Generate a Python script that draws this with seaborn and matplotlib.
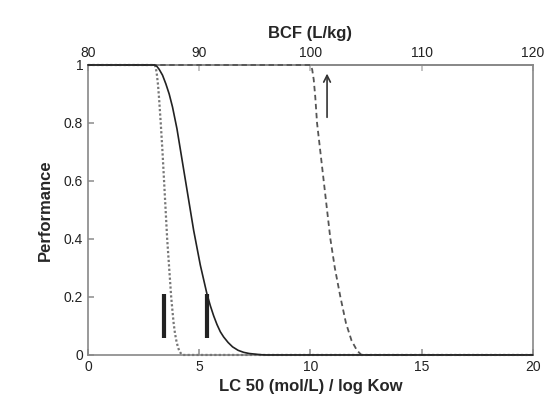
import matplotlib
matplotlib.use("Agg")
import matplotlib.pyplot as plt
import seaborn as sns
import pandas as pd

# Solid curve
solid_x = [0, 3.0, 3.1, 3.2, 3.35, 3.5, 3.65, 3.8, 4.0, 4.15, 4.3, 4.45, 4.6, 4.75, 4.9, 5.05, 5.2,
           5.35, 5.5, 5.65, 5.8, 5.95, 6.1, 6.3, 6.5, 6.75, 7.0, 7.25, 7.5, 7.75, 8.0, 20]
solid_y = [1, 1, 0.995, 0.985, 0.965, 0.935, 0.9, 0.855, 0.78, 0.71, 0.64, 0.57, 0.5, 0.43, 0.37,
           0.31, 0.26, 0.21, 0.17, 0.135, 0.105, 0.08, 0.062, 0.043, 0.028, 0.016, 0.009, 0.005,
           0.003, 0.001, 0, 0]
# Dotted curve
dotted_x = [0, 3.0, 3.05, 3.1, 3.15, 3.2, 3.27, 3.35, 3.42, 3.49, 3.56, 3.65, 3.74, 3.8, 3.85,
            3.91, 3.97, 4.04, 4.1, 4.17, 4.25, 20]
dotted_y = [1, 1, 0.99, 0.965, 0.93, 0.88, 0.8, 0.7, 0.6, 0.5, 0.4, 0.3, 0.2, 0.15, 0.11,
            0.075, 0.05, 0.028, 0.015, 0.006, 0, 0]
# Dashed curve
dashed_x = [0, 10.0, 10.08, 10.15, 10.22, 10.3, 10.45, 10.6, 10.75, 10.9, 11.1, 11.35, 11.6,
            11.85, 12.1, 12.3, 20]
dashed_y = [1, 1, 0.985, 0.95, 0.89, 0.8, 0.7, 0.6, 0.5, 0.4, 0.3, 0.2, 0.11, 0.05, 0.015, 0, 0]

# Markers (vertical bars) and arrow
bar_x = [3.4, 5.35]
bar_y0 = [0.06, 0.06]
bar_y1 = [0.21, 0.21]
arrow_x = 10.75
arrow_y = [0.81, 0.98]

x_ticks = [0, 5, 10, 15, 20]
y_ticks = [0, 0.2, 0.4, 0.6, 0.8, 1]
y_labels = ["0", "0.2", "0.4", "0.6", "0.8", "1"]
top_ticks = [80, 90, 100, 110, 120]

sns.set_theme(style="white")
plt.rcParams["font.family"] = ["Liberation Sans", "DejaVu Sans"]

fig = plt.figure(figsize=(5.45, 4.08), dpi=100)
ax = fig.add_axes([0.1615, 0.130, 0.816, 0.7107])

df_s = pd.DataFrame({"x": solid_x, "y": solid_y})
df_d = pd.DataFrame({"x": dotted_x, "y": dotted_y})
df_h = pd.DataFrame({"x": dashed_x, "y": dashed_y})

sns.lineplot(data=df_h, x="x", y="y", ax=ax, sort=False, estimator=None,
             color="#555555", lw=1.3, linestyle=(0, (3, 2)), clip_on=False, zorder=3)
sns.lineplot(data=df_d, x="x", y="y", ax=ax, sort=False, estimator=None,
             color="#777777", lw=1.6, linestyle=(0, (1, 1)), clip_on=False, zorder=3)
sns.lineplot(data=df_s, x="x", y="y", ax=ax, sort=False, estimator=None,
             color="#222222", lw=1.2, clip_on=False, zorder=4)

ax.vlines(bar_x, bar_y0, bar_y1, colors="#222222", lw=3)
ax.annotate("", xy=(arrow_x, arrow_y[1]), xytext=(arrow_x, arrow_y[0]),
            arrowprops=dict(arrowstyle="->", color="#333333", lw=1.2))

ax.set_xlim(0, 20)
ax.set_ylim(0, 1)
ax.set_xticks(x_ticks)
ax.set_yticks(y_ticks)
ax.set_yticklabels(y_labels)
ax.tick_params(axis="both", direction="in", length=4, color="#999999",
               labelsize=10, colors="#222222", left=True, bottom=True)
ax.set_xlabel("LC 50 (mol/L) / log Kow", fontsize=12, fontweight="bold", labelpad=4)
ax.set_ylabel("Performance", fontsize=12, fontweight="bold", labelpad=8)

for sp in ax.spines.values():
    sp.set_color("#888888")
    sp.set_linewidth(1.2)

sec = ax.secondary_xaxis("top", functions=(lambda v: 80 + 2 * v, lambda b: (b - 80) / 2))
sec.set_xticks(top_ticks)
sec.tick_params(direction="in", length=4, color="#bbbbbb", labelsize=10, colors="#222222")
sec.set_xlabel("BCF (L/kg)", fontsize=12, fontweight="bold", labelpad=6)
sec.spines["top"].set_color("#888888")

fig.savefig("out.png", dpi=100)
